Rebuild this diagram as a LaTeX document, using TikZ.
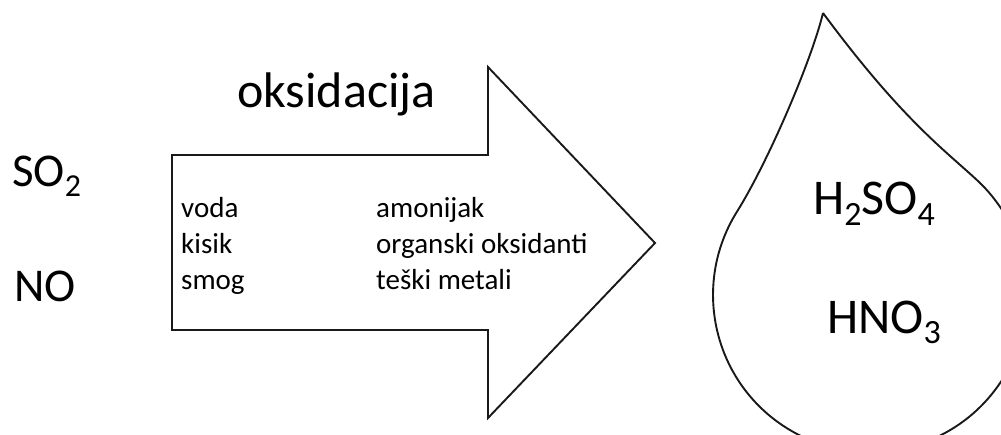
\documentclass[tikz,border=0pt]{standalone}
\usepackage{fontspec}
\setmainfont{Carlito}
\newcommand\chsub[1]{\raisebox{-0.21em}{\scalebox{0.68}{#1}}}
\tikzset{
  outline/.style={draw=black!90, line width=1.9pt, line join=miter},
  big/.style={inner sep=0pt, anchor=base west, font=\fontsize{50}{60}\selectfont},
  chem/.style={inner sep=0pt, anchor=base west, font=\fontsize{47}{56}\selectfont},
  small/.style={inner sep=0pt, anchor=base west, font=\fontsize{29}{36}\selectfont}
}
\begin{document}
\begin{tikzpicture}[x=1pt, y=1pt]
  \clip (0,0) rectangle (1001,434);
  \fill[white] (0,0) rectangle (1001,434);
  % arrow
  \draw[outline] (172,104) -- (172,279) -- (488,279) -- (488,367)
    -- (655,191) -- (488,16) -- (488,104) -- cycle;
  % drop
  \coordinate (tip) at (823,421);
  \draw[outline] (tip) .. controls (812,375) and (768.7,273.1) .. (736.9,222.2)
    arc[start angle=148, end angle=405, radius=157]
    .. controls (950,280) and (905,310) .. (tip);
  % texts
  \node[big] (oks) at (237,326) {oksidacija};
  \node[chem] (so) at (12,247) {SO\chsub{2}};
  \node[chem] (no) at (14,132) {NO};
  \foreach \txt [count=\i] in {voda,kisik,smog}
    \node[small] (l\i) at (181,252-36*\i) {\txt};
  \foreach \txt [count=\i] in {amonijak,organski oksidanti,teški metali}
    \node[small] (r\i) at (376,252-36*\i) {\txt};
  \node[big] (h2so4) at (813,219) {H\chsub{2}SO\chsub{4}};
  \node[big] (hno3) at (827,101) {HNO\chsub{3}};
\end{tikzpicture}
\end{document}
